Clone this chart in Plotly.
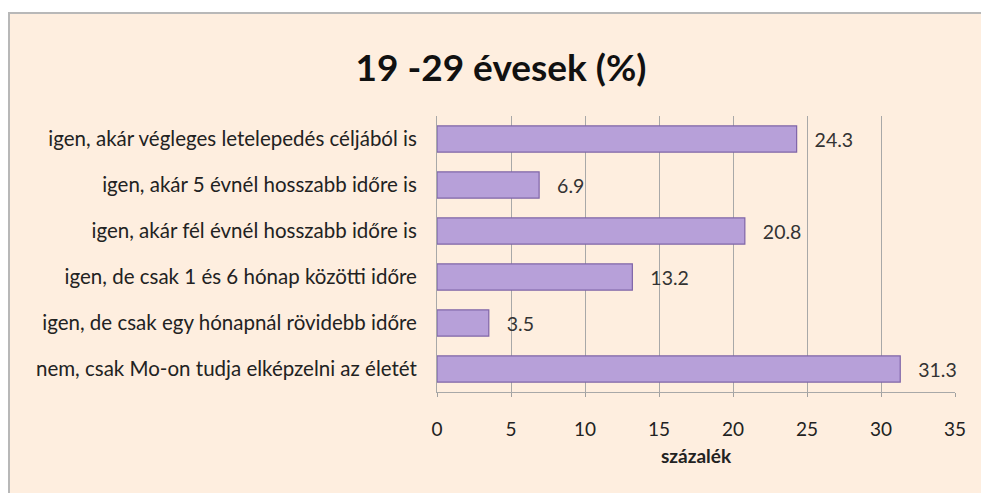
import plotly.graph_objects as go

categories = [
    "nem, csak Mo-on tudja elképzelni az életét",
    "igen, de csak egy hónapnál rövidebb időre",
    "igen, de csak 1 és 6 hónap közötti időre",
    "igen, akár fél évnél hosszabb időre is",
    "igen, akár 5 évnél hosszabb időre is",
    "igen, akár végleges letelepedés céljából is",
]
values = [31.3, 3.5, 13.2, 20.8, 6.9, 24.3]
x_ticks = [0, 5, 10, 15, 20, 25, 30, 35]

W, H = 981, 493
FONT = "Lato, 'Open Sans', sans-serif"

fig = go.Figure()
fig.add_trace(go.Bar(
    x=values, y=categories, orientation="h",
    width=0.57,
    marker=dict(color="#B7A0D9", line=dict(color="#7F64A8", width=1.2)),
    text=["\u00a0\u00a0\u00a0" + f"{v:.1f}" for v in values],
    textposition="outside",
    textfont=dict(size=19.5, color="#333333", family=FONT),
    cliponaxis=False,
))

fig.update_layout(
    width=W, height=H,
    autosize=False,
    margin=dict(l=0, r=0, t=0, b=0, autoexpand=False),
    paper_bgcolor="white",
    plot_bgcolor="white",
    showlegend=False,
    bargap=0.43,
    font=dict(family=FONT, color="#222222"),
    title=dict(text="<b>19 -29 évesek (%)</b>", x=501 / W, xanchor="center",
               y=1 - 68 / H, yanchor="middle",
               font=dict(size=37, color="#111111", family=FONT)),
    xaxis=dict(
        domain=[437 / W, 955 / W],
        range=[0, 35],
        tickvals=x_ticks,
        ticks="outside", ticklen=4, tickcolor="#A0A0A0",
        showgrid=True, gridcolor="#A8A8A8", gridwidth=1,
        showline=True, linecolor="#A8A8A8", linewidth=1,
        tickfont=dict(size=19, color="#222222"),
        ticklabelstandoff=16,
        title=dict(text="<b>százalék</b>", font=dict(size=19, color="#222222"), standoff=10),
        zeroline=False,
        automargin=False,
    ),
    yaxis=dict(
        domain=[1 - 392 / H, 1 - 116 / H],
        showline=True, linecolor="#A8A8A8", linewidth=1,
        ticks="", tickfont=dict(size=20.5, color="#222222"),
        ticklabelstandoff=15,
        showgrid=False,
        automargin=False,
    ),
    shapes=[dict(type="rect", xref="paper", yref="paper",
                 x0=9 / W, x1=1.05, y0=-0.05, y1=1 - 13 / H,
                 fillcolor="#FEEEDF", line=dict(color="#B8B8B8", width=2),
                 layer="below")],
)

fig.write_html("out.html",
               config={"displayModeBar": False, "responsive": False},
               post_script="document.body.style.margin='0';document.body.style.overflow='hidden';")
